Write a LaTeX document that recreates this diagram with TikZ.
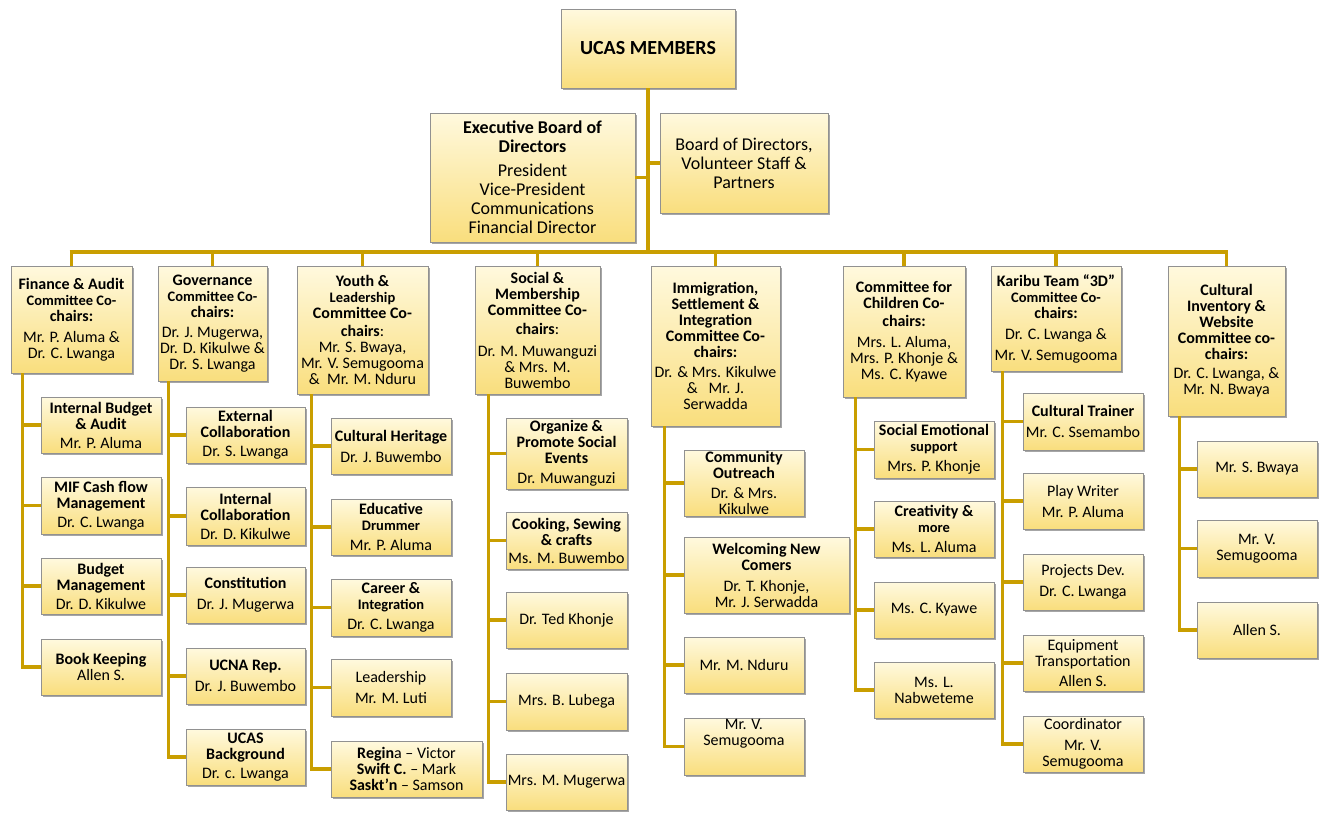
\documentclass[tikz,border=0pt]{standalone}
\usepackage{fontspec}
\setmainfont{Carlito}
\usetikzlibrary{shadows}
\definecolor{gold}{RGB}{201,158,0}
\definecolor{boxtop}{RGB}{255,249,222}
\definecolor{boxbot}{RGB}{249,222,125}
\definecolor{boxline}{RGB}{145,145,145}
\tikzset{
 box/.style={draw=boxline, line width=0.8pt, top color=boxtop, bottom color=boxbot, align=center, inner sep=1pt,
   font=\fontsize{16}{16}\selectfont,
   drop shadow={shadow xshift=2pt, shadow yshift=-2pt, opacity=0.35, fill=black}},
 bigtext/.style={font=\fontsize{18}{19}\selectfont},
 conn/.style={draw=gold, line width=3.6pt}
}
\newcommand\sm{\fontsize{14.5}{16}\selectfont}
\newcommand\bx[7][]{\node[box,#1, minimum width={(#5-#3)*1pt}, minimum height={(#6-#4)*1pt}] (#2) at ({(#3+#5)/2},{(#4+#6)/2}) {#7};}
\begin{document}
\begin{tikzpicture}[x=1pt,y=-1pt]
\useasboundingbox (0,0) rectangle (1319,812);
% top
\bx[font=\fontsize{20}{22}\selectfont\bfseries]{ucas}{561}{9}{735}{88}{UCAS MEMBERS}
\bx[bigtext]{exec}{430}{113}{635}{242}{\textbf{Executive Board of}\\\textbf{Directors}\\[5pt]President\\Vice-President\\Communications\\Financial Director}
\bx[bigtext]{board}{660}{113}{828}{213}{Board of Directors,\\Volunteer Staff \&\\Partners}
% heads
\bx{h1}{11}{266}{132}{373}{\textbf{Finance \& Audit}\\\textbf{\sm Committee Co-}\\\textbf{chairs:}\\[5pt]Mr. P. Aluma \&\\Dr. C. Lwanga}
\bx{h2}{158}{266}{267}{381}{\textbf{Governance}\\\textbf{\sm Committee Co-}\\\textbf{chairs:}\\[4pt]Dr. J. Mugerwa,\\Dr. D. Kikulwe \&\\Dr. S. Lwanga}
\bx{h3}{297}{266}{428}{394}{\textbf{Youth \&}\\\textbf{\sm Leadership}\\\textbf{Committee Co-}\\[2pt]\textbf{chairs}:\\Mr. S. Bwaya,\\Mr. V. Semugooma\\\&\ \ Mr. M. Nduru}
\bx{h4}{475}{266}{600}{394}{\textbf{Social \&}\\\textbf{Membership}\\\textbf{Committee Co-}\\[3pt]\textbf{chairs}:\\[6pt]Dr. M. Muwanguzi\\\& Mrs. M.\\Buwembo}
\bx{h5}{651}{266}{780}{426}{\textbf{Immigration,}\\\textbf{Settlement \&}\\\textbf{Integration}\\\textbf{Committee Co-}\\\textbf{chairs:}\\[4pt]Dr. \& Mrs. Kikulwe\\\&\ \ \ Mr. J.\\Serwadda}
\bx{h6}{843}{266}{965}{397}{\textbf{Committee for}\\\textbf{Children Co-}\\[2pt]\textbf{chairs:}\\[5pt]Mrs. L. Aluma,\\Mrs. P. Khonje \&\\Ms. C. Kyawe}
\bx{h7}{991}{266}{1121}{371}{\textbf{Karibu Team “3D”}\\\textbf{\sm Committee Co-}\\\textbf{chairs:}\\[5pt]Dr. C. Lwanga \&\\[5pt]Mr. V. Semugooma}
\bx{h8}{1168}{266}{1285}{416}{\textbf{Cultural}\\\textbf{Inventory \&}\\\textbf{Website}\\\textbf{Committee co-}\\\textbf{chairs:}\\[3pt]Dr. C. Lwanga, \&\\Mr. N. Bwaya}
% column 1
\bx{c1a}{41}{397}{161}{453}{\textbf{Internal Budget}\\\textbf{\& Audit}\\[3pt]Mr. P. Aluma}
\bx{c1b}{41}{477}{161}{534}{\textbf{MIF Cash flow}\\\textbf{Management}\\[3pt]Dr. C. Lwanga}
\bx{c1c}{41}{558}{161}{614}{\textbf{Budget}\\\textbf{Management}\\[3pt]Dr. D. Kikulwe}
\bx{c1d}{41}{639}{161}{695}{\textbf{Book Keeping}\\Allen S.}
% column 2
\bx{c2a}{186}{407}{305}{463}{\textbf{External}\\\textbf{Collaboration}\\[3pt]Dr. S. Lwanga}
\bx{c2b}{186}{487}{305}{545}{\textbf{Internal}\\\textbf{Collaboration}\\[3pt]Dr. D. Kikulwe}
\bx{c2c}{186}{567}{305}{623}{\textbf{Constitution}\\[5pt]Dr. J. Mugerwa}
\bx{c2d}{186}{648}{305}{704}{\textbf{UCNA Rep.}\\[5pt]Dr. J. Buwembo}
\bx{c2e}{186}{729}{305}{785}{\textbf{UCAS}\\\textbf{Background}\\[3pt]Dr. c. Lwanga}
% column 3
\bx{c3a}{331}{418}{451}{474}{\textbf{Cultural Heritage}\\[5pt]Dr. J. Buwembo}
\bx{c3b}{331}{499}{451}{555}{\textbf{Educative}\\\textbf{\sm Drummer}\\[4pt]Mr. P. Aluma}
\bx{c3c}{331}{579}{451}{636}{\textbf{Career \&}\\\textbf{\sm Integration}\\[4pt]Dr. C. Lwanga}
\bx{c3d}{331}{659}{451}{716}{Leadership\\[5pt]Mr. M. Luti}
\bx{c3e}{331}{741}{482}{797}{\textbf{Regin}a -- Victor\\\textbf{Swift C.} -- Mark\\\textbf{Saskt’n} -- Samson}
% column 4
\bx{c4a}{506}{418}{627}{489}{\textbf{Organize \&}\\\textbf{Promote Social}\\\textbf{Events}\\[4pt]Dr. Muwanguzi}
\bx{c4b}{506}{512}{627}{569}{\textbf{Cooking, Sewing}\\\textbf{\& crafts}\\[2pt]Ms. M. Buwembo}
\bx{c4c}{506}{592}{627}{648}{Dr. Ted Khonje}
\bx{c4d}{506}{673}{627}{730}{Mrs. B. Lubega}
\bx{c4e}{506}{754}{627}{810}{Mrs. M. Mugerwa}
% column 5
\bx{c5a}{684}{450}{804}{516}{\textbf{Community}\\\textbf{Outreach}\\[4pt]Dr. \& Mrs.\\Kikulwe}
\bx{c5b}{684}{537}{849}{613}{\textbf{Welcoming New}\\\textbf{Comers}\\[5pt]Dr. T. Khonje,\\Mr. J. Serwadda}
\bx{c5c}{684}{637}{804}{693}{Mr. M. Nduru}
\bx{c5d}{684}{718}{804}{775}{Mr. V.\\Semugooma\\[12pt]}
% column 6
\bx{c6a}{874}{421}{994}{478}{\textbf{Social Emotional}\\\textbf{\sm support}\\[4pt]Mrs. P. Khonje}
\bx{c6b}{874}{501}{994}{557}{\textbf{Creativity \&}\\\textbf{\sm more}\\[4pt]Ms. L. Aluma}
\bx{c6c}{874}{582}{994}{638}{Ms. C. Kyawe}
\bx{c6d}{874}{662}{994}{718}{Ms. L.\\Nabweteme}
% column 7
\bx{c7a}{1023}{393}{1143}{450}{\textbf{Cultural Trainer}\\[5pt]Mr. C. Ssemambo}
\bx{c7b}{1023}{473}{1143}{529}{Play Writer\\[5pt]Mr. P. Aluma}
\bx{c7c}{1023}{554}{1143}{610}{Projects Dev.\\[5pt]Dr. C. Lwanga}
\bx{c7d}{1023}{635}{1143}{691}{Equipment\\Transportation\\[4pt]Allen S.}
\bx{c7e}{1023}{716}{1143}{772}{Coordinator\\[5pt]Mr. V.\\Semugooma}
% column 8
\bx{c8a}{1197}{441}{1317}{497}{Mr. S. Bwaya}
\bx{c8b}{1197}{520}{1317}{577}{Mr. V.\\Semugooma}
\bx{c8c}{1197}{602}{1317}{658}{Allen S.}
% connectors top
\coordinate (bus) at (648,252);
\draw[conn] (ucas.south) -- (bus);
\draw[conn] (exec.east) -- (exec.east -| ucas.south);
\draw[conn] (board.west) -- (board.west -| ucas.south);
\draw[conn] ([xshift=-1.8pt]h1.north |- bus) -- ([xshift=1.8pt]h8.north |- bus);
\foreach \h in {h1,h2,h3,h4,h5,h6,h7,h8} \draw[conn] (\h.north) -- (\h.north |- bus);
% trunks
\coordinate (t1) at ([xshift=12pt]h1.south west);
\coordinate (t2) at ([xshift=11pt]h2.south west);
\coordinate (t3) at ([xshift=15pt]h3.south west);
\coordinate (t4) at ([xshift=14pt]h4.south west);
\coordinate (t5) at ([xshift=14pt]h5.south west);
\coordinate (t6) at ([xshift=13pt]h6.south west);
\coordinate (t7) at ([xshift=12pt]h7.south west);
\coordinate (t8) at ([xshift=12pt]h8.south west);
\foreach \c in {c1a,c1b,c1c,c1d} \draw[conn] (t1) |- (\c.west);
\foreach \c in {c2a,c2b,c2c,c2d,c2e} \draw[conn] (t2) |- (\c.west);
\foreach \c in {c3a,c3b,c3c,c3d,c3e} \draw[conn] (t3) |- (\c.west);
\foreach \c in {c4a,c4b,c4c,c4d,c4e} \draw[conn] (t4) |- (\c.west);
\foreach \c in {c5a,c5b,c5c,c5d} \draw[conn] (t5) |- (\c.west);
\foreach \c in {c6a,c6b,c6c,c6d} \draw[conn] (t6) |- (\c.west);
\foreach \c in {c7a,c7b,c7c,c7d,c7e} \draw[conn] (t7) |- (\c.west);
\foreach \c in {c8a,c8b,c8c} \draw[conn] (t8) |- (\c.west);
\end{tikzpicture}
\end{document}
